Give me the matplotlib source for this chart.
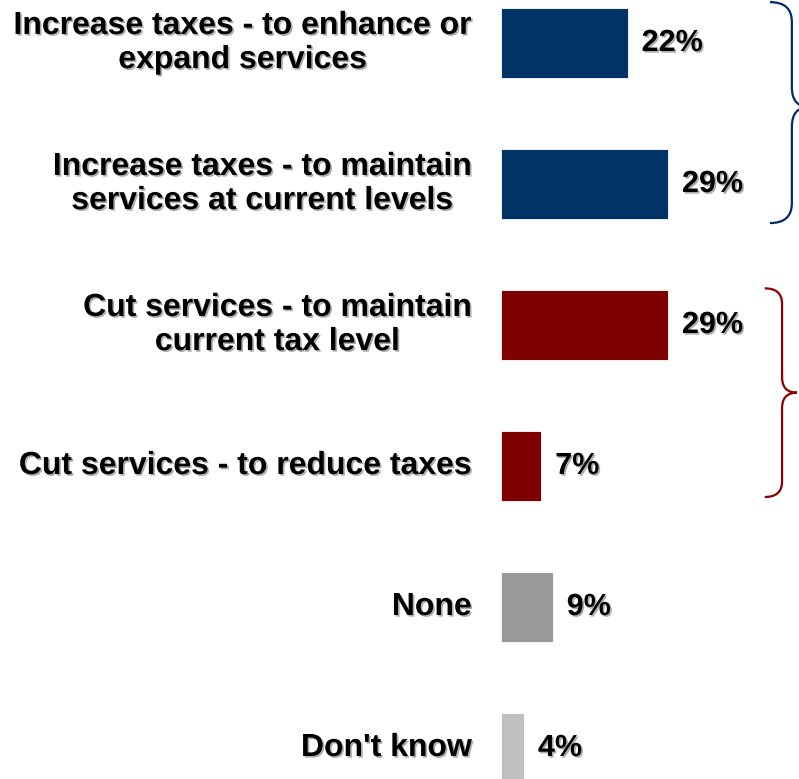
import matplotlib
matplotlib.use('Agg')

import matplotlib.pyplot as plt
import matplotlib.patheffects as pe
from matplotlib.path import Path
from matplotlib.patches import PathPatch

categories = ['Increase taxes - to enhance or\nexpand services',
              'Increase taxes - to maintain\nservices at current levels',
              'Cut services - to maintain\ncurrent tax level',
              'Cut services - to reduce taxes',
              'None',
              "Don't know"]
values = [22, 29, 29, 7, 9, 4]
colors = ['#003366', '#003366', '#7f0000', '#7f0000', '#999999', '#c0c0c0']

shadow = [pe.SimplePatchShadow(offset=(1.2, -1.2), shadow_rgbFace='#777777', alpha=0.6),
          pe.Normal()]


def brace(ax, y0, y1, ym, x0, x1, x2, r, color):
    verts = [(x0, y0), (x1, y0), (x1, y0 + r),
             (x1, ym - r), (x1, ym), (x2, ym),
             (x1, ym), (x1, ym + r),
             (x1, y1 - r), (x1, y1), (x0, y1)]
    codes = [Path.MOVETO, Path.CURVE3, Path.CURVE3,
             Path.LINETO, Path.CURVE3, Path.CURVE3,
             Path.CURVE3, Path.CURVE3,
             Path.LINETO, Path.CURVE3, Path.CURVE3]
    ax.add_patch(PathPatch(Path(verts, codes), facecolor='none',
                           edgecolor=color, lw=1.6, clip_on=True))


def main():
    fig = plt.figure(figsize=(7.99, 7.79), dpi=100)
    ax = fig.add_axes([0, 0, 1, 1])
    y = list(range(len(values)))
    ax.barh(y, values, height=0.5, color=colors, edgecolor='white', linewidth=0.6)
    ax.set_xlim(-86.98, 51.74)
    ax.set_ylim(5.22, -0.305)
    ax.axis('off')

    for i, (cat, v) in enumerate(zip(categories, values)):
        ax.annotate(cat, (0, i), xytext=(-21, 0), textcoords='offset points',
                    ha='right', va='center', multialignment='center',
                    fontsize=23, fontweight='bold', linespacing=1.18,
                    family='Liberation Sans', path_effects=shadow)
        ax.annotate('%d%%' % v, (v, i), xytext=(10, 0), textcoords='offset points',
                    ha='left', va='center', fontsize=22, fontweight='bold',
                    family='Liberation Sans', path_effects=shadow)

    brace(ax, -0.29, 1.277, 0.454, 46.7, 50.5, 53.5, 0.14, '#002a6a')
    brace(ax, 1.74, 3.22, 2.48, 45.8, 48.8, 51.4, 0.11, '#8b0000')

    fig.savefig('out.png', dpi=100)


if __name__ == '__main__':
    main()
